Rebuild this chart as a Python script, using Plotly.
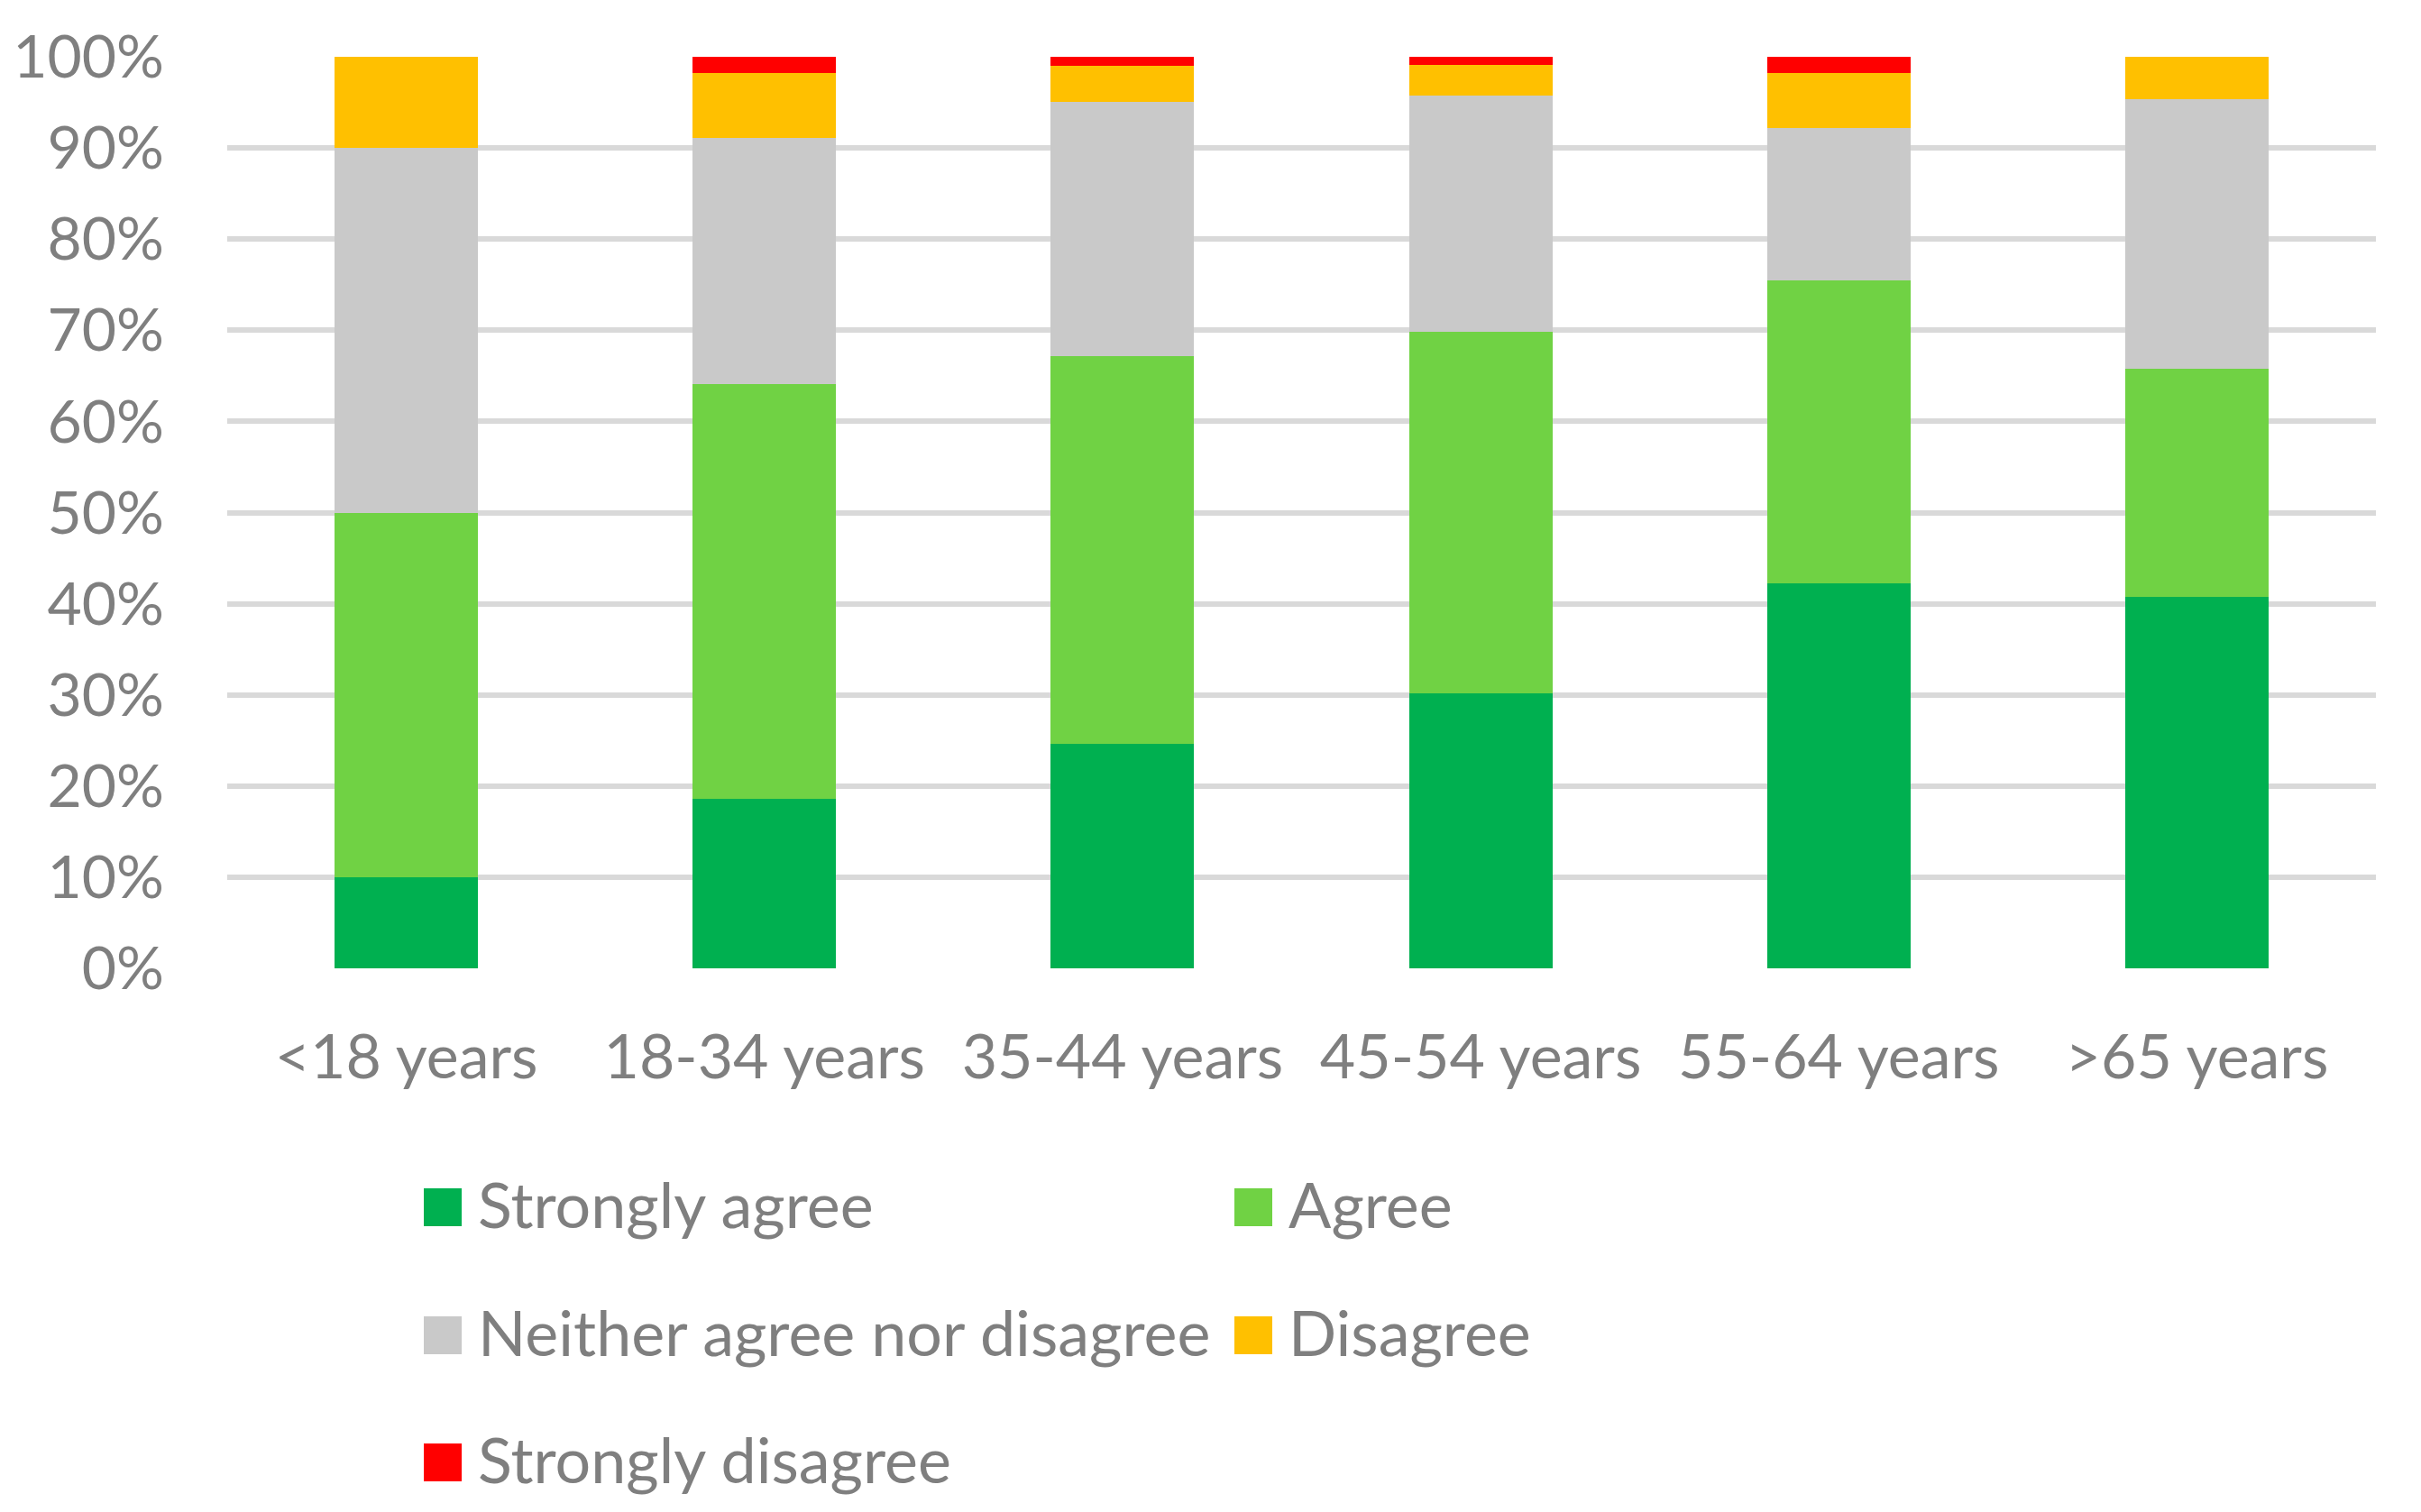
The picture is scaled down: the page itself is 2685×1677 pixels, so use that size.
import plotly.graph_objects as go

# age groups and share of answers (%) per group
categories = ["<18 years", "18-34 years", "35-44 years", "45-54 years", "55-64 years", ">65 years"]
strongly_agree = [10.0, 18.6, 24.6, 30.2, 42.2, 40.8]
agree = [40.0, 45.5, 42.6, 39.6, 33.3, 25.0]
neither = [40.0, 27.0, 27.9, 25.9, 16.7, 29.6]
disagree = [10.0, 7.1, 3.9, 3.4, 6.0, 4.6]
strongly_disagree = [0.0, 1.8, 1.0, 0.9, 1.8, 0.0]

series_names = ["Strongly agree", "Agree", "Neither agree nor disagree", "Disagree", "Strongly disagree"]
series_values = [strongly_agree, agree, neither, disagree, strongly_disagree]
colors = ["#00B050", "#70D244", "#C9C9C9", "#FFC000", "#FF0000"]

W, H = 2685, 1677
L, R, T, B = 252, 50, 63, 603
GREY = "#7F7F7F"
FONT = "Lato"

fig = go.Figure()
for name, vals, col in zip(series_names, series_values, colors):
    fig.add_trace(go.Bar(x=categories, y=vals, name=name,
                         marker=dict(color=col, line_width=0),
                         showlegend=False))


def paper_x(px):
    return (px - L) / (W - L - R)


def paper_y(py):
    return (H - B - py) / (H - T - B)


# hand-made legend so the swatches can be as big as in the original
legend_cols = [470, 1369]
legend_rows = [1339, 1481, 1622]
for i, (name, col) in enumerate(zip(series_names, colors)):
    x0 = legend_cols[i % 2]
    yc = legend_rows[i // 2]
    fig.add_shape(type="rect", xref="paper", yref="paper",
                  x0=paper_x(x0), x1=paper_x(x0 + 42),
                  y0=paper_y(yc + 21), y1=paper_y(yc - 21),
                  fillcolor=col, line_width=0)
    fig.add_annotation(xref="paper", yref="paper",
                       x=paper_x(x0 + 58), y=paper_y(yc - 4),
                       text=name, showarrow=False,
                       xanchor="left", yanchor="middle",
                       font=dict(family=FONT, size=70, color=GREY))

fig.update_layout(
    width=W, height=H,
    margin=dict(l=L, r=R, t=T, b=B),
    barmode="stack",
    bargap=0.6,
    plot_bgcolor="white",
    paper_bgcolor="white",
    font=dict(family=FONT, size=66, color=GREY),
    showlegend=False,
)
fig.update_yaxes(range=[0, 100], dtick=10, ticksuffix="%",
                 showgrid=True, gridcolor="#D9D9D9", gridwidth=6,
                 zeroline=False, showline=False,
                 ticklabelstandoff=69,
                 tickfont=dict(family=FONT, size=66, color=GREY))
fig.update_xaxes(showgrid=False, zeroline=False, showline=False,
                 ticklabelstandoff=53,
                 tickfont=dict(family=FONT, size=68, color=GREY))

fig.write_html("out.html", config={"displayModeBar": False},
               post_script="document.body.style.margin='0px';")
